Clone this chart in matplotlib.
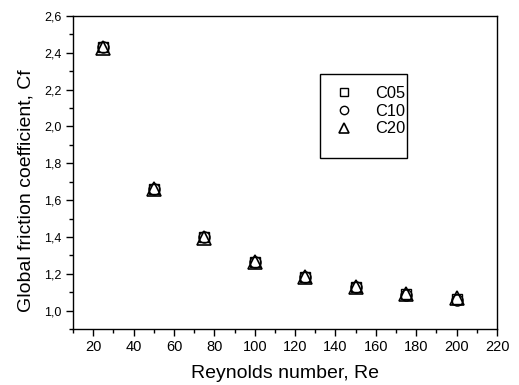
import matplotlib

matplotlib.use("Agg")
import matplotlib.pyplot as plt
from matplotlib.patches import Rectangle
from matplotlib.ticker import FuncFormatter, MultipleLocator


RE = [25, 50, 75, 100, 125, 150, 175, 200]
CF_C05 = [2.43, 1.66, 1.40, 1.265, 1.18, 1.128, 1.088, 1.062]
CF_C10 = [2.43, 1.66, 1.398, 1.266, 1.182, 1.126, 1.086, 1.056]
CF_C20 = [2.428, 1.658, 1.396, 1.266, 1.181, 1.13, 1.089, 1.066]

plt.rcParams["font.family"] = ["Liberation Sans", "DejaVu Sans"]

fig = plt.figure(figsize=(5.19, 3.85), dpi=100)
ax = fig.add_axes([73 / 519, 1 - 329 / 385, 424 / 519, 313 / 385])

ax.plot(RE, CF_C05, linestyle="none", marker="s", markersize=7,
        markerfacecolor="none", markeredgecolor="black", markeredgewidth=1.0, label="C05")
ax.plot(RE, CF_C10, linestyle="none", marker="o", markersize=8,
        markerfacecolor="none", markeredgecolor="black", markeredgewidth=1.0, label="C10")
ax.plot(RE, CF_C20, linestyle="none", marker="^", markersize=10,
        markerfacecolor="none", markeredgecolor="black", markeredgewidth=1.2, label="C20")

ax.set_xlim(10, 220)
ax.set_ylim(0.9, 2.6)
ax.xaxis.set_major_locator(MultipleLocator(20))
ax.xaxis.set_minor_locator(MultipleLocator(10))
ax.yaxis.set_major_locator(MultipleLocator(0.2))
ax.yaxis.set_minor_locator(MultipleLocator(0.1))
ax.yaxis.set_major_formatter(FuncFormatter(lambda v, p: f"{v:.1f}".replace(".", ",")))

ax.tick_params(which="both", direction="out", top=False, right=False, width=1.0)
ax.tick_params(which="major", length=5)
ax.tick_params(which="minor", length=3)
ax.tick_params(axis="x", labelsize=10.5, pad=3)
ax.tick_params(axis="y", labelsize=9)
for s in ax.spines.values():
    s.set_linewidth(1.0)

ax.set_xlabel("Reynolds number, Re", fontsize=14, labelpad=8)
ax.set_ylabel("Global friction coefficient, Cf", fontsize=14)
ax.yaxis.set_label_coords(-38 / 424, (329 - 191) / 313)

# legend box drawn by hand so the padding matches the original
ax.add_patch(Rectangle(((320 - 73) / 424, (329 - 158) / 313), 87 / 424, 84 / 313,
                       transform=ax.transAxes, fill=False, edgecolor="black",
                       linewidth=1.0, zorder=5))
ax.legend(loc="upper left", bbox_to_anchor=((336 - 73) / 424, (329 - 86) / 313),
          fontsize=11.8, frameon=False, borderaxespad=0, borderpad=0,
          handlelength=1.0, handletextpad=1.4, labelspacing=0.16, markerscale=0.75)

fig.savefig("out.png", dpi=100)
plt.close(fig)
